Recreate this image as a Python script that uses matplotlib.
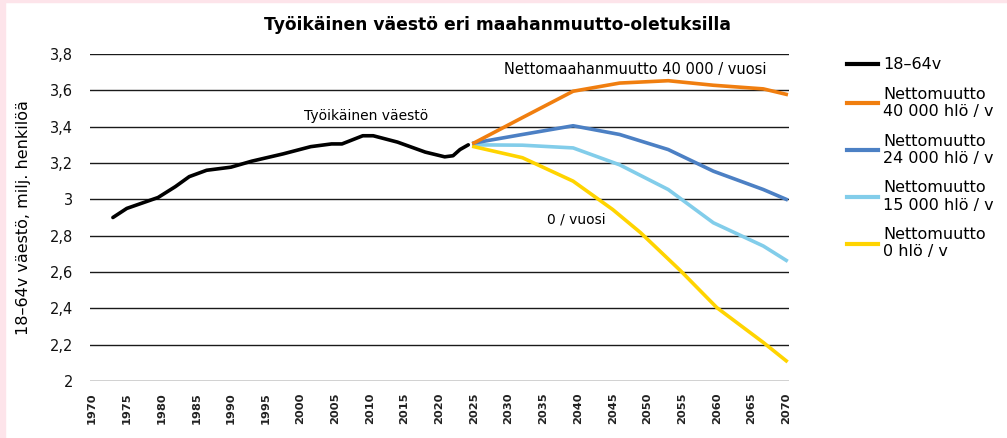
import numpy as np
import matplotlib.pyplot as plt
from matplotlib.lines import Line2D
from matplotlib.patches import Rectangle

plt.rcParams['font.family'] = ['DejaVu Sans']

# historical working-age population, millions
hist_years = [1973, 1975, 1978, 1979.5, 1982, 1984, 1986.5, 1990, 1993, 1997.5,
              2001.5, 2004.5, 2006, 2009, 2010.5, 2014, 2018, 2020.8, 2022, 2023, 2024.2]
hist_vals = [2.90, 2.95, 2.99, 3.01, 3.07, 3.125, 3.16, 3.177, 3.21, 3.25,
             3.29, 3.305, 3.305, 3.35, 3.35, 3.315, 3.26, 3.234, 3.24, 3.274, 3.30]

# projections
proj_years = [2025, 2032, 2039.3, 2046, 2053, 2059.5, 2066.7, 2070]
net40 = [3.31, 3.45, 3.595, 3.64, 3.653, 3.628, 3.608, 3.578]
net24 = [3.31, 3.357, 3.405, 3.357, 3.274, 3.155, 3.054, 3.0]
net15 = [3.30, 3.298, 3.283, 3.19, 3.054, 2.871, 2.743, 2.664]
yel_years = [2025, 2032, 2039.3, 2045, 2049, 2054.8, 2060, 2066.7, 2070]
net0 = [3.29, 3.229, 3.10, 2.944, 2.817, 2.606, 2.404, 2.212, 2.111]

colors = {'hist': '#000000', 'n40': '#F07E0F', 'n24': '#4C80C4',
          'n15': '#82CDEA', 'n0': '#FFD400'}
labels = ['18–64v', 'Nettomuutto\n40 000 hlö / v', 'Nettomuutto\n24 000 hlö / v',
          'Nettomuutto\n15 000 hlö / v', 'Nettomuutto\n0 hlö / v']

fig = plt.figure(figsize=(10.07, 4.38), dpi=100)
fig.patch.set_facecolor('white')
# pink frame strips
pink = '#FDE4EA'
fig.patches.append(Rectangle((0, 0), 5 / 1007, 1, transform=fig.transFigure,
                             color=pink, zorder=-1))
fig.patches.append(Rectangle((0, 1 - 2 / 438), 1, 2 / 438, transform=fig.transFigure,
                             color=pink, zorder=-1))

ax = fig.add_axes([90 / 1007, 1 - 381 / 438, 699 / 1007, 327 / 438])
ax.set_facecolor('none')

lw = 2.6
ax.plot(hist_years, hist_vals, color=colors['hist'], lw=lw, solid_capstyle='round')
ax.plot(proj_years, net15, color=colors['n15'], lw=lw)
ax.plot(yel_years, net0, color=colors['n0'], lw=lw)
ax.plot(proj_years, net24, color=colors['n24'], lw=lw)
ax.plot(proj_years, net40, color=colors['n40'], lw=lw)

ax.set_xlim(1969.7, 2070.4)
ax.set_ylim(2, 3.8)
yt = np.arange(2.0, 3.81, 0.2)
ax.set_yticks(yt)
ax.set_yticklabels([str(round(v)) if abs(v - round(v)) < 1e-6
                    else f'{v:.1f}'.replace('.', ',') for v in yt],
                   fontsize=10.5, color='#111111')
ax.set_xticks(range(1970, 2071, 5))
ax.set_xticklabels([str(y) for y in range(1970, 2071, 5)], rotation=90,
                   fontsize=8.2, fontweight='bold', color='#222222')
ax.tick_params(length=0, pad=12)
ax.tick_params(axis='x', pad=8)
for s in ax.spines.values():
    s.set_visible(False)
ax.grid(axis='y', color='#1a1a1a', lw=1)
ax.set_axisbelow(True)

ax.set_ylabel('18–64v väestö, milj. henkilöä', fontsize=11.5)
ax.yaxis.set_label_coords(-0.085, 0.5)

ax.text(2009.5, 3.42, 'Työikäinen väestö', fontsize=10, ha='center', va='bottom')
ax.text(2048.2, 3.714, 'Nettomaahanmuutto 40 000 / vuosi', fontsize=10.5,
        ha='center', va='center')
ax.text(2039.7, 2.89, '0 / vuosi', fontsize=10, ha='center', va='center')

fig.text(497 / 1007, 1 - 25 / 438, 'Työikäinen väestö eri maahanmuutto-oletuksilla',
         fontsize=12.3, fontweight='bold', ha='center', va='center')

handles = [Line2D([], [], color=colors[k], lw=3)
           for k in ['hist', 'n40', 'n24', 'n15', 'n0']]
fig.legend(handles, labels, loc='upper left', bbox_to_anchor=(833 / 1007, 1 - 43 / 438),
           frameon=False, fontsize=11.5, handlelength=1.9, handletextpad=0.35,
           labelspacing=0.9)

fig.savefig('out.png', dpi=100)
